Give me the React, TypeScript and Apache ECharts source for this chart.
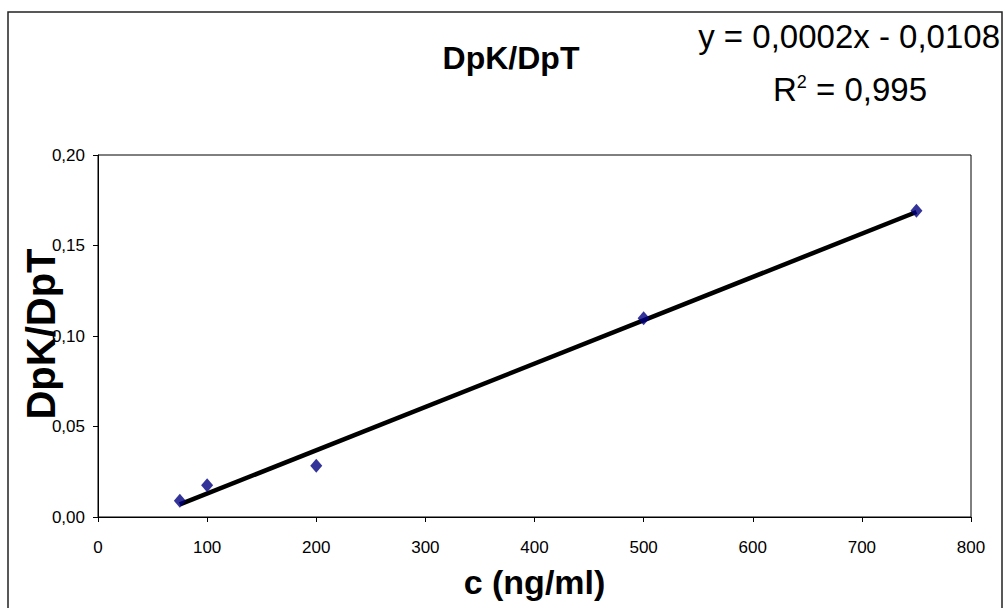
import React, { useEffect, useRef } from "react";
import * as echarts from "echarts";

const concentrations = [75, 100, 200, 500, 750];
const ratios = [0.009, 0.0176, 0.0283, 0.1098, 0.1692];
const xTicks = [0, 100, 200, 300, 400, 500, 600, 700, 800];
const yTicks = [0, 0.05, 0.1, 0.15, 0.2];
const titleText = "DpK/DpT";
const yAxisTitle = "DpK/DpT";
const xAxisTitle = "c (ng/ml)";
const equationText = "y = 0,0002x - 0,0108";
const r2Value = " = 0,995";

function fitLine(xs: number[], ys: number[]) {
  const n = xs.length;
  const mx = xs.reduce((a, b) => a + b, 0) / n;
  const my = ys.reduce((a, b) => a + b, 0) / n;
  let sxx = 0;
  let sxy = 0;
  for (let i = 0; i < n; i++) {
    sxx += (xs[i] - mx) * (xs[i] - mx);
    sxy += (xs[i] - mx) * (ys[i] - my);
  }
  const slope = sxy / sxx;
  return { slope, intercept: my - slope * mx };
}

export default function App() {
  const ref = useRef<HTMLDivElement>(null);
  useEffect(() => {
    if (!ref.current) return;
    const chart = echarts.init(ref.current, undefined, { renderer: "svg" });
    const { slope, intercept } = fitLine(concentrations, ratios);
    const xMin = Math.min(...concentrations);
    const xMax = Math.max(...concentrations);
    const trend = [
      [xMin, slope * xMin + intercept],
      [xMax, slope * xMax + intercept],
    ];
    const font = "'Liberation Sans', Arial, sans-serif";
    chart.setOption({
      animation: false,
      backgroundColor: "#ffffff",
      textStyle: { fontFamily: font },
      grid: {
        left: 98,
        top: 155,
        width: 873,
        height: 362,
        containLabel: false,
        outerBoundsMode: "none",
        show: true,
        borderColor: "#000",
        borderWidth: 1,
        backgroundColor: "transparent",
      },
      xAxis: {
        type: "value",
        min: xTicks[0],
        max: xTicks[xTicks.length - 1],
        interval: 100,
        name: xAxisTitle,
        nameLocation: "middle",
        nameGap: 48,
        nameTextStyle: { fontSize: 34, fontWeight: "bold", color: "#000", fontFamily: font },
        axisLine: { show: true, onZero: false, lineStyle: { color: "#000", width: 1 } },
        axisTick: { show: true, inside: false, length: 5, lineStyle: { color: "#000" } },
        axisLabel: { fontSize: 17, color: "#000", margin: 22, fontFamily: font },
        splitLine: { show: false },
      },
      yAxis: {
        type: "value",
        min: yTicks[0],
        max: yTicks[yTicks.length - 1],
        interval: 0.05,
        axisLine: { show: true, onZero: false, lineStyle: { color: "#000", width: 1 } },
        axisTick: { show: true, inside: false, length: 5, lineStyle: { color: "#000" } },
        axisLabel: {
          fontSize: 17,
          color: "#000",
          margin: 13,
          fontFamily: font,
          formatter: (v: number) => v.toFixed(2).replace(".", ","),
        },
        splitLine: { show: false },
      },
      graphic: [
        {
          type: "rect",
          shape: { x: 8, y: 12, width: 994, height: 620 },
          style: { fill: "none", stroke: "#222", lineWidth: 1.5 },
          silent: true,
        },
        {
          type: "text",
          x: 41,
          y: 334,
          rotation: Math.PI / 2,
          z: 10,
          style: {
            text: yAxisTitle,
            font: `bold 40px ${font}`,
            fill: "#000",
            textAlign: "center",
            textVerticalAlign: "middle",
          },
        },
        {
          type: "text",
          x: 511,
          y: 58,
          style: {
            text: titleText,
            font: `bold 32px ${font}`,
            fill: "#000",
            textAlign: "center",
            textVerticalAlign: "middle",
          },
        },
        {
          type: "text",
          x: 1000,
          y: 36,
          style: {
            text: equationText,
            font: `33px ${font}`,
            fill: "#000",
            textAlign: "right",
            textVerticalAlign: "middle",
          },
        },
        {
          type: "text",
          x: 927,
          y: 89,
          style: {
            text: "{r|R}{s|2}{n|" + r2Value + "}",
            fill: "#000",
            textAlign: "right",
            textVerticalAlign: "middle",
            rich: {
              r: { fontSize: 33, fontFamily: font, color: "#000", verticalAlign: "bottom" },
              s: { fontSize: 18, fontFamily: font, color: "#000", verticalAlign: "top" },
              n: { fontSize: 33, fontFamily: font, color: "#000", verticalAlign: "bottom" },
            },
          },
        },
      ],
      series: [
        {
          type: "line",
          data: trend,
          showSymbol: false,
          symbol: "none",
          lineStyle: { color: "#000", width: 4.5 },
          z: 2,
        },
        {
          type: "scatter",
          data: concentrations.map((c, i) => [c, ratios[i]]),
          symbol: "diamond",
          symbolSize: [12, 14],
          itemStyle: { color: "#000080" },
          z: 3,
        },
      ],
    });
    return () => chart.dispose();
  }, []);
  return (
    <div
      ref={ref}
      style={{ position: "fixed", left: 0, top: 0, width: 1005, height: 608, background: "#fff" }}
    />
  );
}
